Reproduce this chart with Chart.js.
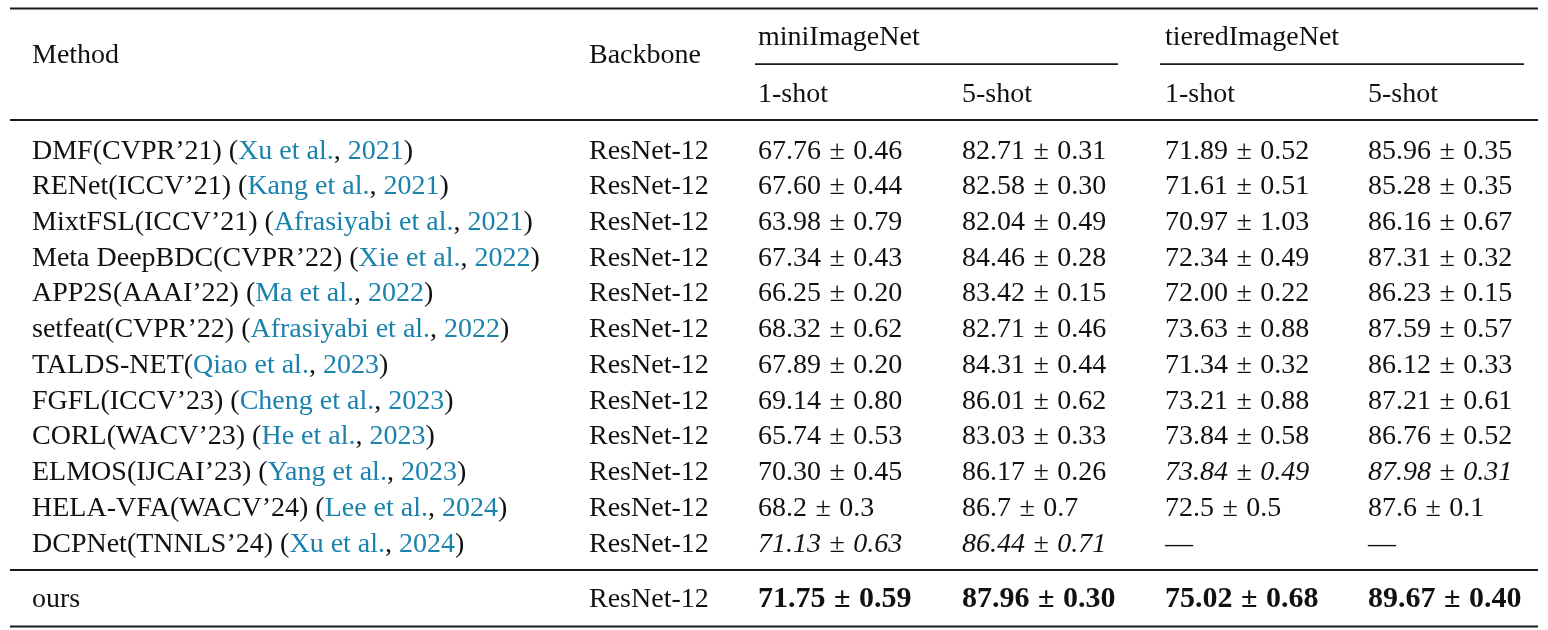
<!DOCTYPE html>
<html>
<head>
<meta charset="utf-8">
<script src="https://cdn.jsdelivr.net/npm/chart.js@4.4.0/dist/chart.umd.min.js"></script>
<style>
html,body{margin:0;padding:0;background:#ffffff;}
#wrap{width:1548px;height:630px;}
canvas{display:block;}
</style>
</head>
<body>
<div id="wrap"><canvas id="c" width="1548" height="630"></canvas></div>
<script>
// ---------- data ----------
const headerLabels = ['Method', 'Backbone'];
const datasetNames = ['miniImageNet', 'tieredImageNet'];
const shotLabels = ['1-shot', '5-shot'];

const methodNames = ['DMF(CVPR’21)', 'RENet(ICCV’21)', 'MixtFSL(ICCV’21)', 'Meta DeepBDC(CVPR’22)', 'APP2S(AAAI’22)', 'setfeat(CVPR’22)', 'TALDS-NET', 'FGFL(ICCV’23)', 'CORL(WACV’23)', 'ELMOS(IJCAI’23)', 'HELA-VFA(WACV’24)', 'DCPNet(TNNLS’24)', 'ours'];
const citeAuthors = ['Xu et al.', 'Kang et al.', 'Afrasiyabi et al.', 'Xie et al.', 'Ma et al.', 'Afrasiyabi et al.', 'Qiao et al.', 'Cheng et al.', 'He et al.', 'Yang et al.', 'Lee et al.', 'Xu et al.', null];
const citeYears = ['2021', '2021', '2021', '2022', '2022', '2022', '2023', '2023', '2023', '2023', '2024', '2024', null];
const backbones = ['ResNet-12', 'ResNet-12', 'ResNet-12', 'ResNet-12', 'ResNet-12', 'ResNet-12', 'ResNet-12', 'ResNet-12', 'ResNet-12', 'ResNet-12', 'ResNet-12', 'ResNet-12', 'ResNet-12'];

const miniOneMean = ['67.76', '67.60', '63.98', '67.34', '66.25', '68.32', '67.89', '69.14', '65.74', '70.30', '68.2', '71.13', '71.75'];
const miniOneStd = ['0.46', '0.44', '0.79', '0.43', '0.20', '0.62', '0.20', '0.80', '0.53', '0.45', '0.3', '0.63', '0.59'];
const miniFiveMean = ['82.71', '82.58', '82.04', '84.46', '83.42', '82.71', '84.31', '86.01', '83.03', '86.17', '86.7', '86.44', '87.96'];
const miniFiveStd = ['0.31', '0.30', '0.49', '0.28', '0.15', '0.46', '0.44', '0.62', '0.33', '0.26', '0.7', '0.71', '0.30'];
const tieredOneMean = ['71.89', '71.61', '70.97', '72.34', '72.00', '73.63', '71.34', '73.21', '73.84', '73.84', '72.5', null, '75.02'];
const tieredOneStd = ['0.52', '0.51', '1.03', '0.49', '0.22', '0.88', '0.32', '0.88', '0.58', '0.49', '0.5', null, '0.68'];
const tieredFiveMean = ['85.96', '85.28', '86.16', '87.31', '86.23', '87.59', '86.12', '87.21', '86.76', '87.98', '87.6', null, '89.67'];
const tieredFiveStd = ['0.35', '0.35', '0.67', '0.32', '0.15', '0.57', '0.33', '0.61', '0.52', '0.31', '0.1', null, '0.40'];

const secondBestRow = [11, 11, 9, 9];   // italic (second best) per value column
const bestRow = 12;                      // bold row

// ---------- layout / style ----------
const FONT_FAMILY = '"Liberation Serif", "Times New Roman", serif';
const FONT_SIZE = 28;
const BOLD_SIZE = 30;
const TEXT = '#111111';
const LINK = '#1a82ad';
const colX = [32, 589, 758, 962, 1165, 1368];     // x-scale units (px)
const groupSpan = [[755, 1118], [1160, 1524]];
const ruleSpan = [10, 1538];
const Y = { min: -4.436, max: 13.196, oursOffset: 0.566,
            groupTitle: -3.177, head: -2.664, shot: -1.590,
            top: -4.198, groupRule: -2.644, mid: -1.078, sep: 11.517, bottom: 13.098 };
const PM_GAP = 8.5;

function rowPos(i) { return i === bestRow ? i + Y.oursOffset : i; }
function fontFor(style) {
  const size = style === 'bold' ? BOLD_SIZE : FONT_SIZE;
  return (style || '') + ' ' + size + 'px ' + FONT_FAMILY;
}

function methodCell(i) {
  const runs = [];
  const name = methodNames[i];
  if (citeAuthors[i] === null) { runs.push({ t: name }); return runs; }
  runs.push({ t: name + (name.endsWith(')') ? ' (' : '(') });
  runs.push({ t: citeAuthors[i], c: LINK });
  runs.push({ t: ', ' });
  runs.push({ t: citeYears[i], c: LINK });
  runs.push({ t: ')' });
  return runs;
}
function valueCell(mean, std, i, col) {
  if (mean === null) return [{ t: '—' }];
  let s = '';
  if (i === bestRow) s = 'bold';
  else if (secondBestRow[col] === i) s = 'italic';
  return [{ t: mean, s: s, after: PM_GAP }, { t: '±', s: s === 'bold' ? 'bold' : '', after: PM_GAP }, { t: std, s: s }];
}

const valueCols = [[miniOneMean, miniOneStd], [miniFiveMean, miniFiveStd], [tieredOneMean, tieredOneStd], [tieredFiveMean, tieredFiveStd]];

const columns = [
  methodNames.map((_, i) => methodCell(i)),
  backbones.map(b => [{ t: b }]),
].concat(valueCols.map(([m, sd], col) => m.map((v, i) => valueCell(v, sd[i], i, col))));

const datasets = columns.map((cells, ci) => ({
  label: 'col' + ci,
  data: cells.map((_, i) => ({ x: colX[ci], y: rowPos(i) })),
  cells: cells,
  pointRadius: 0,
  pointHoverRadius: 0,
  showLine: false
}));

function drawRuns(ctx, runs, x, y) {
  runs.forEach(r => {
    ctx.font = fontFor(r.s);
    ctx.fillStyle = r.c || TEXT;
    ctx.fillText(r.t, x, y);
    x += ctx.measureText(r.t).width + (r.after || 0);
  });
}

const tablePlugin = {
  id: 'tableText',
  afterDatasetsDraw(chart) {
    const ctx = chart.ctx;
    const xs = chart.scales.x, ys = chart.scales.y;
    ctx.save();
    ctx.textBaseline = 'alphabetic';
    ctx.textAlign = 'left';
    // rules
    ctx.strokeStyle = '#1a1a1a';
    const hline = (x0, x1, yv, w) => {
      ctx.lineWidth = w;
      ctx.beginPath();
      ctx.moveTo(xs.getPixelForValue(x0), ys.getPixelForValue(yv));
      ctx.lineTo(xs.getPixelForValue(x1), ys.getPixelForValue(yv));
      ctx.stroke();
    };
    hline(ruleSpan[0], ruleSpan[1], Y.top, 2);
    hline(ruleSpan[0], ruleSpan[1], Y.mid, 2);
    hline(ruleSpan[0], ruleSpan[1], Y.sep, 2);
    hline(ruleSpan[0], ruleSpan[1], Y.bottom, 2);
    groupSpan.forEach(g => hline(g[0], g[1], Y.groupRule, 1.8));
    // headers
    headerLabels.forEach((h, k) => drawRuns(ctx, [{ t: h }], xs.getPixelForValue(colX[k]), ys.getPixelForValue(Y.head)));
    datasetNames.forEach((d, k) => drawRuns(ctx, [{ t: d }], xs.getPixelForValue(colX[2 + 2 * k]), ys.getPixelForValue(Y.groupTitle)));
    [0, 1].forEach(k => shotLabels.forEach((s, j) => drawRuns(ctx, [{ t: s }], xs.getPixelForValue(colX[2 + 2 * k + j]), ys.getPixelForValue(Y.shot))));
    // cells
    chart.data.datasets.forEach((ds, di) => {
      const meta = chart.getDatasetMeta(di);
      meta.data.forEach((pt, i) => drawRuns(ctx, ds.cells[i], pt.x, pt.y));
    });
    ctx.restore();
  }
};

new Chart(document.getElementById('c'), {
  type: 'scatter',
  data: { datasets: datasets },
  options: {
    responsive: false,
    animation: false,
    events: [],
    layout: { padding: 0 },
    plugins: { legend: { display: false }, tooltip: { enabled: false } },
    scales: {
      x: { type: 'linear', min: 0, max: 1548, display: false },
      y: { type: 'linear', min: Y.min, max: Y.max, reverse: true, display: false }
    }
  },
  plugins: [tablePlugin]
});
</script>
</body>
</html>
